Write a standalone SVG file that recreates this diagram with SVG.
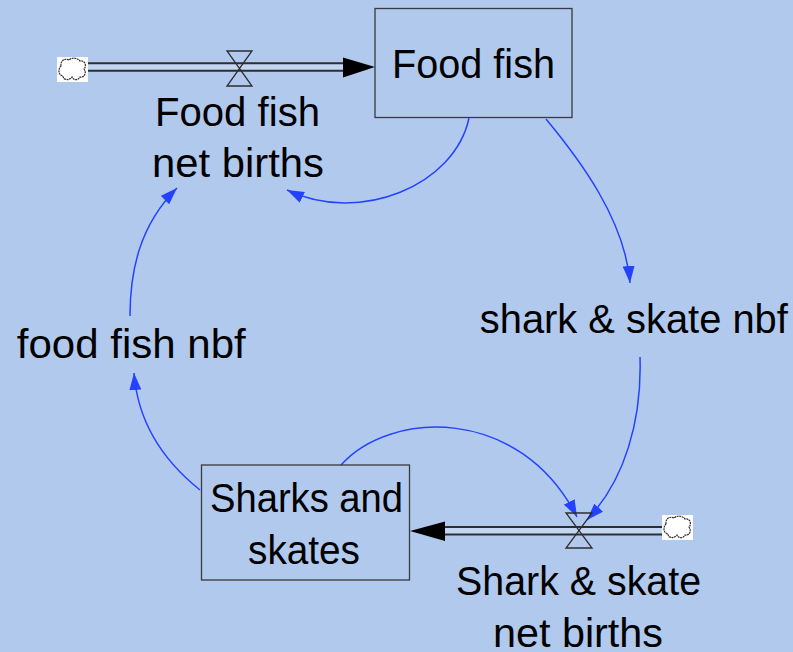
<svg xmlns="http://www.w3.org/2000/svg" width="793" height="652" viewBox="0 0 793 652">
  <style>
    .lbl { font-family: "Liberation Sans", Arial, sans-serif; font-size: 40px; fill: #000; text-anchor: middle; }
    .stock { fill: none; stroke: #3a3a3a; stroke-width: 1.3; }
    .link { fill: none; stroke: #2442ff; stroke-width: 1.5; marker-end: url(#blueHead); }
    .pipeOuter { stroke: #2e2e2e; stroke-width: 9.4; fill: none; }
    .pipeInner { stroke: #c4d6f2; stroke-width: 5.4; fill: none; }
    .valve { fill: none; stroke: #2e2e2e; stroke-width: 1.3; }
    .cloud { fill: #fff; stroke: #333; stroke-width: 1.2; stroke-dasharray: 2 0.6; }
  </style>
  <defs>
    <marker id="blueHead" viewBox="0 0 17 12" refX="17" refY="6" markerWidth="17" markerHeight="12" markerUnits="userSpaceOnUse" orient="auto">
      <path d="M0,0 L17,6 L0,12 Z" fill="#2442ff"/>
    </marker>
    <g id="cloudShape">
      <rect x="0" y="0" width="31" height="25" fill="#fff"/>
      <path class="cloud" d="M4,9 C3,3 9,1 12,3 C15,0 21,1 23,4 C28,3 30,9 27,12 C30,16 27,21 23,20 C21,24 16,23 15,20 C12,24 6,23 6,19 C1,18 1,12 4,9 Z"/>
    </g>
  </defs>

  <rect x="0" y="0" width="793" height="652" fill="#b2c9ee"/>

  <!-- information links -->
  <g id="connectors">
    <path class="link" d="M469,118 C455,185 360,225 287,190"/>
    <path class="link" d="M546,119 C580,160 625,220 630,283"/>
    <path class="link" d="M640,357 C642,420 625,480 587,520"/>
    <path class="link" d="M341,465 C390,410 520,405 577,517"/>
    <path class="link" d="M200,490 C165,462 138,425 134,373"/>
    <path class="link" d="M130,316 C130,270 140,225 177,188"/>
  </g>

  <!-- inflow into Food fish -->
  <g id="flow-food-fish">
    <line class="pipeOuter" x1="88" y1="67" x2="345" y2="67"/>
    <line class="pipeInner" x1="88" y1="67" x2="346" y2="67"/>
    <polygon points="343,57.5 375,67 343,77.5" fill="#000"/>
    <use href="#cloudShape" x="57" y="57"/>
    <path class="valve" d="M227,51 L252,51 L227,86 L252,86 Z"/>
  </g>

  <!-- inflow into Sharks and skates -->
  <g id="flow-sharks">
    <line class="pipeOuter" x1="443" y1="530.7" x2="662" y2="530.7"/>
    <line class="pipeInner" x1="442" y1="530.7" x2="662" y2="530.7"/>
    <polygon points="445,521.5 410,531 445,541" fill="#000"/>
    <use href="#cloudShape" x="662" y="515"/>
    <path class="valve" d="M566,513 L592,513 L566,548 L592,548 Z"/>
  </g>

  <g id="stock-food-fish">
    <rect class="stock" x="375" y="8.5" width="197" height="109"/>
    <text class="lbl" x="473.5" y="78" textLength="163" lengthAdjust="spacingAndGlyphs">Food fish</text>
  </g>

  <g id="stock-sharks">
    <rect class="stock" x="201.5" y="465" width="208" height="115"/>
    <text class="lbl" x="306.5" y="512" textLength="193" lengthAdjust="spacingAndGlyphs">Sharks and</text>
    <text class="lbl" x="304" y="564" textLength="112" lengthAdjust="spacingAndGlyphs">skates</text>
  </g>

  <g id="rate-food-fish">
    <text class="lbl" x="237.5" y="125.6" textLength="165" lengthAdjust="spacingAndGlyphs">Food fish</text>
    <text class="lbl" x="238" y="177" textLength="172" lengthAdjust="spacingAndGlyphs">net births</text>
  </g>

  <g id="rate-sharks">
    <text class="lbl" x="578.6" y="595.4" textLength="245" lengthAdjust="spacingAndGlyphs">Shark &amp; skate</text>
    <text class="lbl" x="578" y="646.6" textLength="170" lengthAdjust="spacingAndGlyphs">net births</text>
  </g>

  <g id="aux-shark-nbf">
    <text class="lbl" x="633.8" y="332.6" textLength="308" lengthAdjust="spacingAndGlyphs">shark &amp; skate nbf</text>
  </g>

  <g id="aux-food-nbf">
    <text class="lbl" x="131.3" y="357.6" textLength="229" lengthAdjust="spacingAndGlyphs">food fish nbf</text>
  </g>
</svg>
